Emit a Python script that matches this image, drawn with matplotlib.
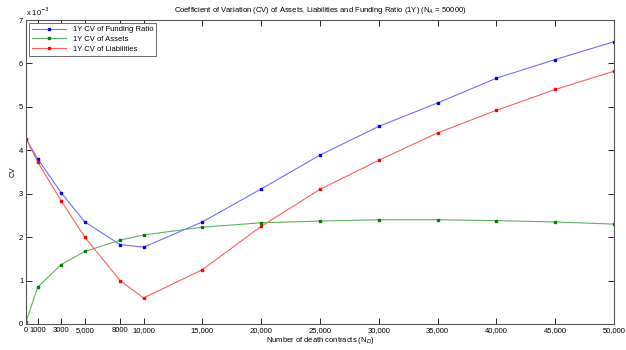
import numpy as np
import matplotlib
matplotlib.use('Agg')
import matplotlib.pyplot as plt

# numero de contratos de muerte
nd = np.array([0, 1000, 3000, 5000, 8000, 10000, 15000, 20000, 25000, 30000, 35000, 40000, 45000, 50000])

# CV (x 1e-3)
cv_fr = np.array([4.27, 3.80, 3.02, 2.35, 1.83, 1.77, 2.35, 3.11, 3.89, 4.55, 5.09, 5.66, 6.09, 6.50])
cv_assets = np.array([0.05, 0.85, 1.37, 1.67, 1.93, 2.05, 2.23, 2.33, 2.37, 2.40, 2.40, 2.38, 2.35, 2.30])
cv_liab = np.array([4.27, 3.73, 2.83, 2.00, 1.00, 0.60, 1.25, 2.25, 3.10, 3.77, 4.40, 4.92, 5.40, 5.82])

xticks = [0, 1000, 3000, 5000, 8000, 10000, 15000, 20000, 25000, 30000, 35000, 40000, 45000, 50000]
xticklabels = ['0', '1000', '3000', '5,000', '8000', '10,000', '15,000', '20,000', '25,000',
               '30,000', '35,000', '40,000', '45,000', '50,000']

plt.rcParams['font.family'] = ['Liberation Sans', 'DejaVu Sans']
plt.rcParams['font.size'] = 5.5

fig = plt.figure(figsize=(6.26, 3.5), dpi=100)
ax = fig.add_axes([26/626, 26/350, 588/626, 304/350])

ax.plot(nd, cv_fr, color='#7070ff', lw=0.8, marker='s', ms=1.8, mfc='#0000ff', mec='#0000ff',
        label='1Y CV of Funding Ratio')
ax.plot(nd, cv_assets, color='#60b060', lw=0.8, marker='s', ms=1.8, mfc='#008000', mec='#008000',
        label='1Y CV of Assets')
ax.plot(nd, cv_liab, color='#ff6060', lw=0.8, marker='s', ms=1.8, mfc='#ff0000', mec='#ff0000',
        label='1Y CV of Liabilities')

ax.set_xlim(0, 50000)
ax.set_ylim(0, 7)
ax.set_xticks(xticks)
ax.set_xticklabels(xticklabels)
ax.set_yticks(range(8))
ax.tick_params(direction='in', length=4, width=0.6, top=True, right=True, pad=2)
for s in ax.spines.values():
    s.set_linewidth(0.8)
    s.set_color('#555555')

ax.set_title('Coefficient of Variation (CV) of Assets, Liabilities and Funding Ratio (1Y) (N$_A$ = 50000)',
             fontsize=5.5, pad=6)
ax.set_xlabel('Number of death contracts (N$_D$)', labelpad=1)
ax.set_ylabel('CV', labelpad=2)
ax.text(0, 1.005, r'x 10$^{-3}$', transform=ax.transAxes, ha='left', va='bottom')

leg = ax.legend(loc='upper left', fancybox=False, edgecolor='#555555', framealpha=1,
                borderaxespad=0.4, handlelength=4.5, labelspacing=0.3, borderpad=0.4)
leg.get_frame().set_linewidth(0.6)

plt.savefig('out.png', dpi=100)
